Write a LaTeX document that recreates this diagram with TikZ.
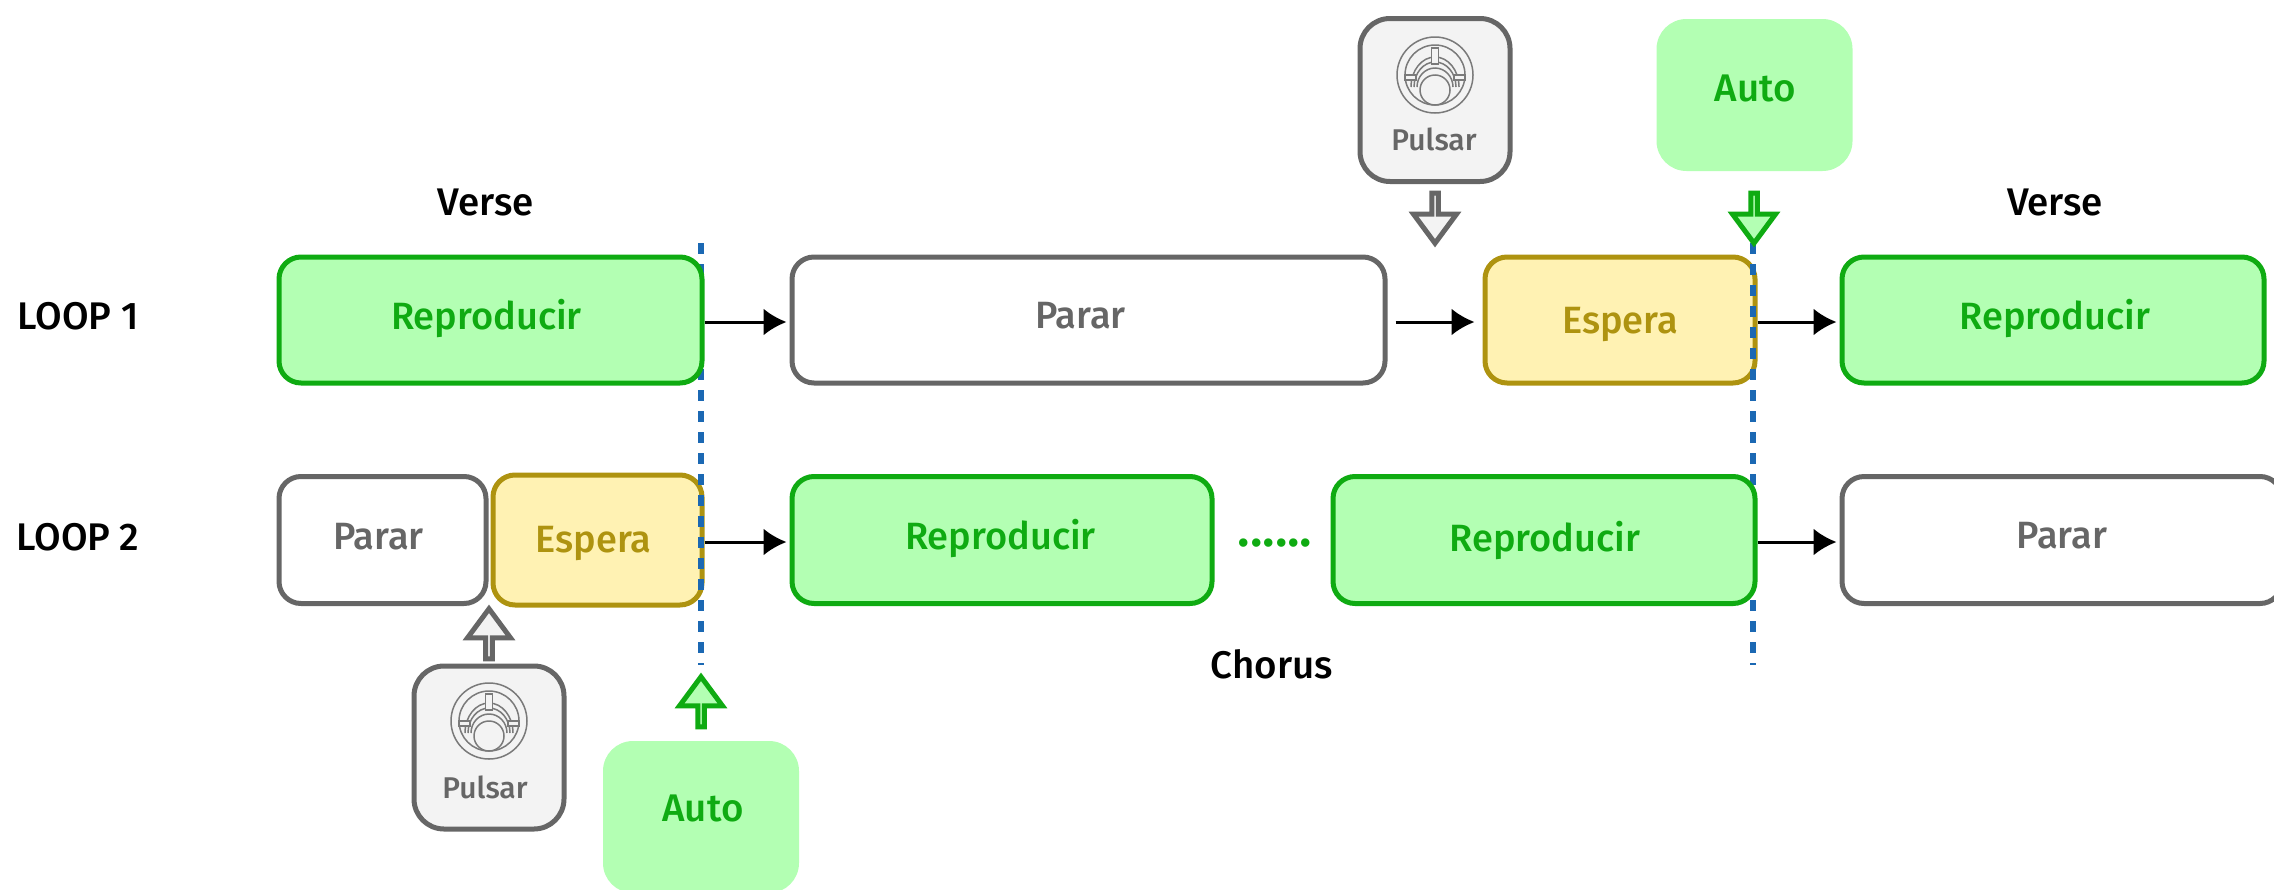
\documentclass[tikz,border=0pt]{standalone}
\usepackage{fontspec}
\setmainfont{Fira Sans Medium}
\usetikzlibrary{arrows.meta,shapes.arrows}

\definecolor{playgreen}{HTML}{0FAB12}
\definecolor{playfill}{HTML}{B3FFB3}
\definecolor{stopgray}{HTML}{666666}
\definecolor{icongray}{HTML}{7A7A7A}
\definecolor{pressfill}{HTML}{F3F3F3}
\definecolor{waitgold}{HTML}{AE9310}
\definecolor{waitfill}{HTML}{FFF2B3}
\definecolor{cutblue}{HTML}{1B68B3}

\tikzset{
    boxbase/.style={rounded corners=22pt, line width=5pt, inner sep=0pt, text depth=0pt, text height=18pt, font=\fontsize{38}{45}\selectfont},
    playbox/.style={boxbase, draw=playgreen, fill=playfill, text=playgreen},
    stopbox/.style={boxbase, draw=stopgray, fill=white, text=stopgray},
    waitbox/.style={boxbase, draw=waitgold, fill=waitfill, text=waitgold},
    pressbox/.style={rounded corners=30pt, line width=5pt, draw=stopgray, fill=pressfill, minimum width=150pt, minimum height=163pt},
    autobox/.style={rounded corners=30pt, fill=playfill, minimum width=196pt, minimum height=152pt},
    smalltext/.style={inner sep=0pt, font=\fontsize{30}{36}\selectfont},
    plain/.style={inner sep=0pt, font=\fontsize{38.5}{45}\selectfont},
    flow/.style={-{Latex[length=23pt,width=27pt]}, line width=3pt, black},
    cutline/.style={cutblue, line width=5.5pt, dash pattern=on 11pt off 10pt},
    blockarrow/.style={single arrow, draw, line width=5pt, inner sep=0pt, minimum width=43pt, minimum height=50pt,
        single arrow head extend=14pt, single arrow tip angle=73, shape border uses incircle=false},
    pics/pulsaricon/.style={code={
        \draw[icongray, line width=1.5pt] (0,0) circle (38) (0,0) circle (30);
        \draw[icongray, line width=1.5pt] (-24,12) arc[start angle=180, end angle=360, x radius=24, y radius=30];
        \draw[icongray, line width=1.5pt] (-21,12) arc[start angle=180, end angle=360, x radius=21, y radius=25];
        \draw[icongray, line width=1.5pt] (-18,12) arc[start angle=180, end angle=360, x radius=18, y radius=19];
        \draw[icongray, line width=1.2pt, fill=pressfill] (-3.5,-27) rectangle (3.5,-11);
        \draw[icongray, line width=1.2pt, fill=pressfill] (-30,0) rectangle (-19,5) (19,0) rectangle (30,5);
        \draw[icongray, line width=1.5pt, fill=pressfill] (0,15) circle (15);
    }}
}

\begin{document}
\begin{tikzpicture}[x=1pt, y=-1pt]
    \useasboundingbox (0,0) rectangle (2274,889);
    \clip (0,0) rectangle (2274,889);

    %row labels
    \node[plain] (looplabela) at (78,316) {LOOP 1};
    \node[plain] (looplabelb) at (78,537) {LOOP 2};
    \node[plain] (verseleft) at (486,202) {Verse};
    \node[plain] (verseright) at (2055,202) {Verse};
    \node[plain] (chorus) at (1272,664) {Chorus};

    % waiting boxes go under the cut lines
    \node[waitbox, text height=26pt, minimum width=270pt, minimum height=126pt] (waita) at (1620,320) {Espera};
    \node[waitbox, text height=24pt, minimum width=209pt, minimum height=130pt] (waitb) at (597.5,540) {\kern-8pt Espera};

    % cut lines
    \coordinate (cuttopa) at (701,243);
    \coordinate (cutenda) at (701,665);
    \coordinate (cuttopb) at (1753,243);
    \coordinate (cutendb) at (1753,665);
    \draw[cutline] (cuttopa) -- (cutenda);
    \draw[cutline] (cuttopb) -- (cutendb);

    % Loop 1
    \node[playbox, minimum width=423pt, minimum height=126pt] (playa) at (490.5,320) {\kern-8pt Reproducir};
    \node[stopbox, text height=16pt, minimum width=593pt, minimum height=126pt] (stopa) at (1088.5,320) {\kern-16pt Parar};
    \node[playbox, minimum width=422pt, minimum height=126pt] (playb) at (2053,320) {\kern4pt Reproducir};

    % Loop 2
    \node[stopbox, text height=18pt, minimum width=207pt, minimum height=127pt] (stopb) at (382.5,540) {\kern-8pt Parar};
    \node[playbox, minimum width=420pt, minimum height=127pt] (playc) at (1002,540) {\kern-3pt Reproducir};
    \node[plain, anchor=base, text=playgreen, font=\fontsize{52}{60}\selectfont] (dots) at (1275,546) {......};
    \node[playbox, text height=22pt, minimum width=422pt, minimum height=127pt] (playd) at (1544,540) {\kern2pt Reproducir};
    \node[stopbox, text height=16pt, minimum width=440pt, minimum height=127pt] (stopc) at (2062,540) {Parar};

    %relations
    \draw[flow, shorten >=3pt] ([yshift=-2pt]playa.east) -- ([yshift=-2pt]stopa.west);
    \draw[flow, shorten <=8pt, shorten >=8pt] ([yshift=-2pt]stopa.east) -- ([yshift=-2pt]waita.west);
    \draw[flow, shorten >=3pt] ([yshift=-2pt]waita.east) -- ([yshift=-2pt]playb.west);
    \draw[flow, shorten >=3pt] ([yshift=-2pt]waitb.east) -- ([yshift=-2pt]playc.west);
    \draw[flow, shorten >=3pt] ([yshift=-2pt]playd.east) -- ([yshift=-2pt]stopc.west);

    % press and auto, top
    \node[pressbox] (pressa) at (1435,100) {};
    \pic at (1435,75) {pulsaricon};
    \node[smalltext, text=stopgray] (presstexta) at (1434,139) {Pulsar};
    \node[autobox] (autoa) at (1754.5,95) {};
    \node[plain, text=playgreen] (autotexta) at (1755,88) {Auto};
    \node[blockarrow, draw=stopgray, fill=pressfill, rotate=-90] (pressarrowa) at (1435,216) {};
    \node[blockarrow, draw=playgreen, fill=playfill, rotate=-90] (autoarrowa) at (1754,216) {};

    % press and auto, bottom
    \node[pressbox] (pressb) at (489,747.5) {};
    \pic at (489,721) {pulsaricon};
    \node[smalltext, text=stopgray] (presstextb) at (485,787) {Pulsar};
    \node[autobox, minimum height=152pt] (autob) at (701,817) {};
    \node[plain, text=playgreen] (autotextb) at (703,808) {Auto};
    \node[blockarrow, draw=stopgray, fill=pressfill, rotate=90] (pressarrowb) at (489,636) {};
    \node[blockarrow, draw=playgreen, fill=playfill, rotate=90] (autoarrowb) at (701,704) {};
\end{tikzpicture}
\end{document}
